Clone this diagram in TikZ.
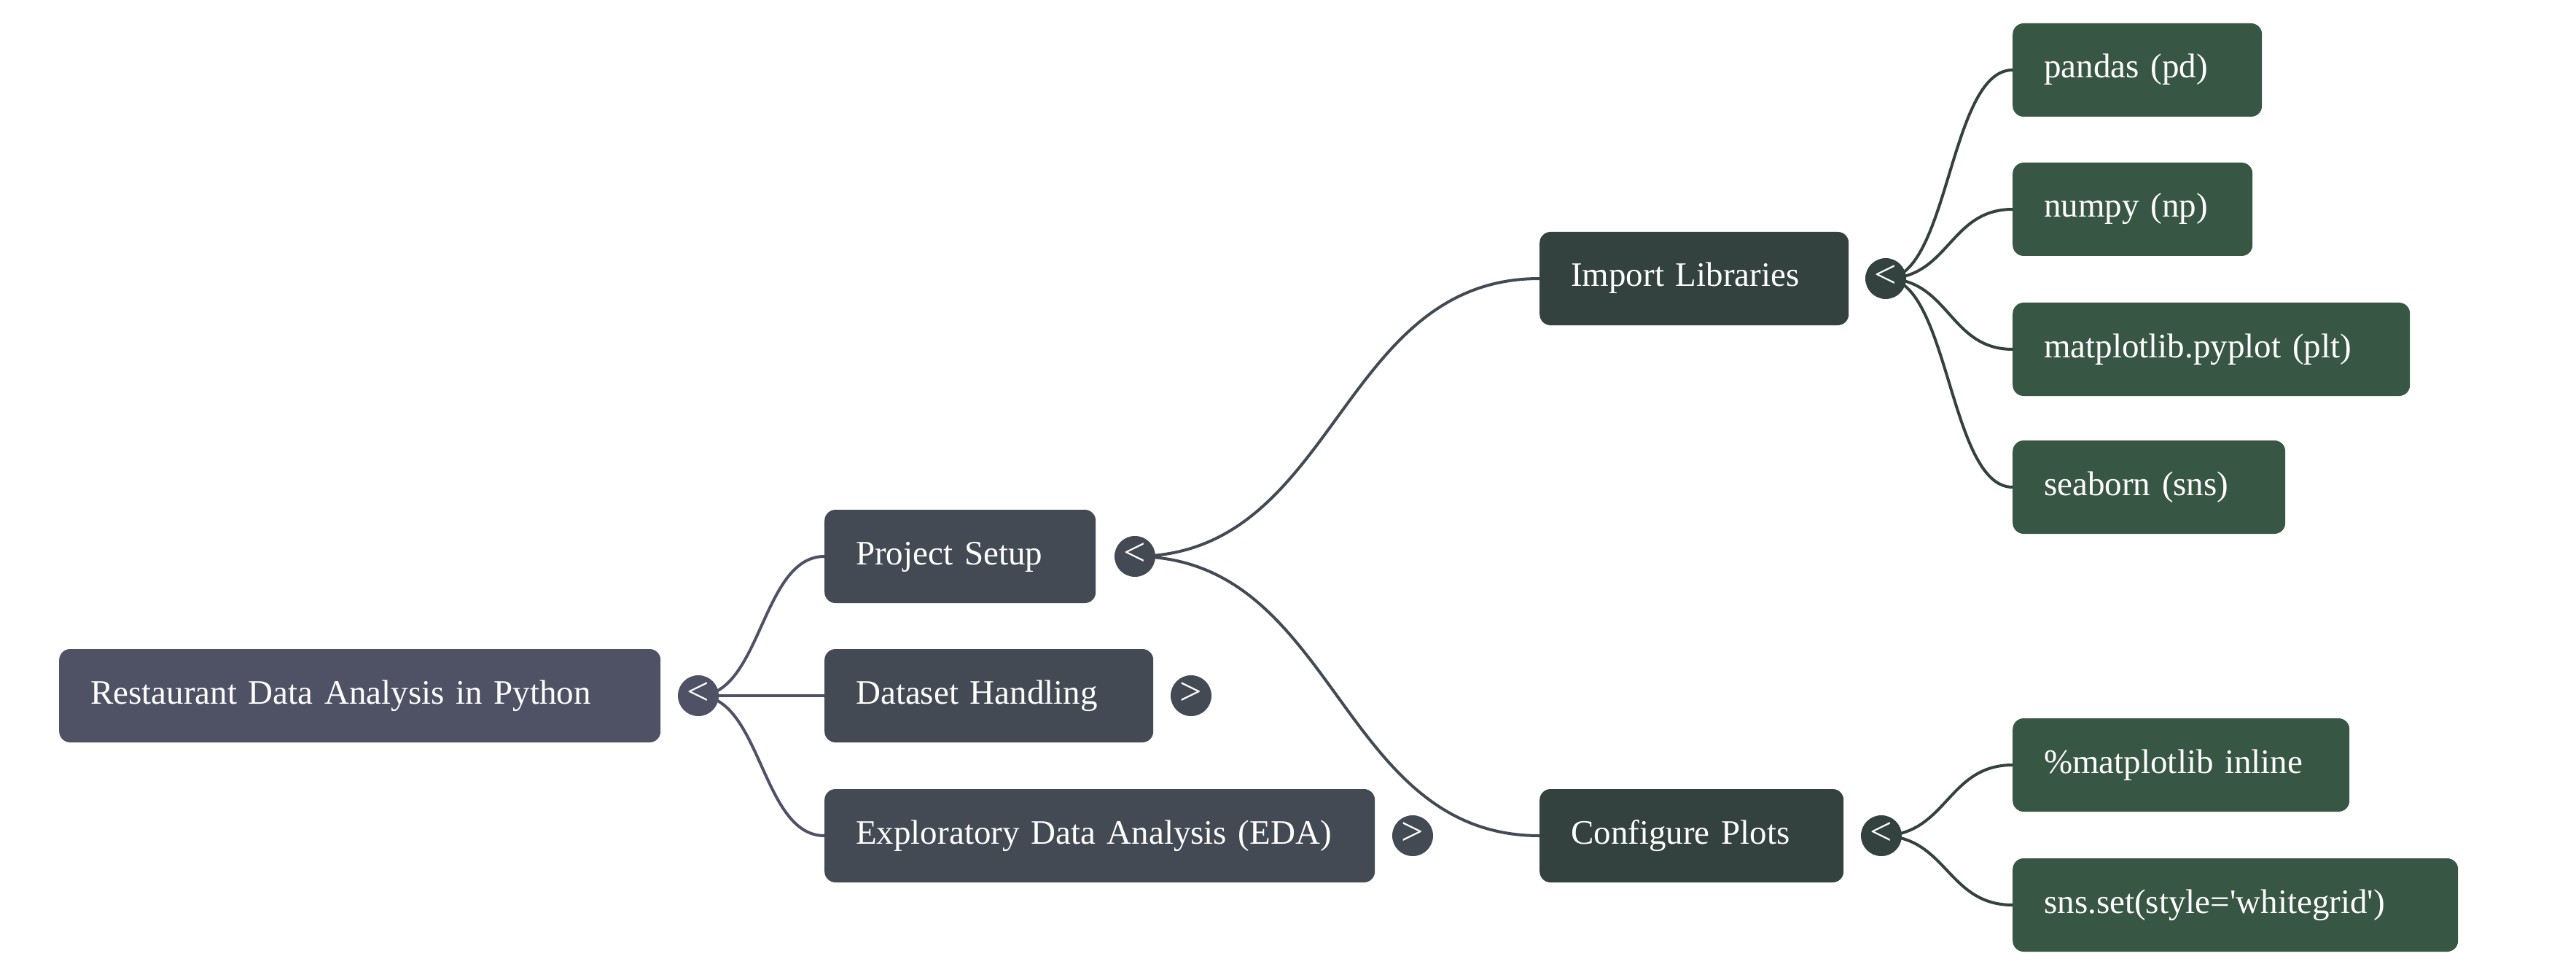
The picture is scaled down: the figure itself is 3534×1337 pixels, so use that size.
\documentclass[tikz,border=0pt]{standalone}
\usepackage{fontspec}
\newfontfamily\lserif{Liberation Serif}
\usetikzlibrary{calc}
\definecolor{croot}{HTML}{4F5165}
\definecolor{cone}{HTML}{434A54}
\definecolor{ctwo}{HTML}{33423E}
\definecolor{cleaf}{HTML}{385644}
\pgfdeclarelayer{bg}
\pgfsetlayers{bg,main}
\tikzset{
  box/.style={rounded corners=15pt, minimum height=128pt, text width=#1,
    inner xsep=43pt, inner ysep=0pt, align=left, anchor=west, text=white,
    font=\lserif\fontsize{47}{56}\selectfont, text height=32pt, text depth=10pt},
  tog/.style={circle, minimum size=56pt, inner sep=0pt, text=white,
    font=\lserif\fontsize{54}{60}\selectfont, text height=25pt, text depth=0pt},
  link/.style={line width=4pt, to path={let \p1=(\tikztostart), \p2=(\tikztotarget) in
    .. controls ({(\x1+\x2)/2},\y1) and ({(\x1+\x2)/2},\y2) .. (\tikztotarget) \tikztonodes}}
}
\begin{document}
\begin{tikzpicture}[x=1pt,y=-1pt]
\useasboundingbox (0,0) rectangle (3534,1337);
% boxes
\node[box=739pt, fill=croot] (root) at (81,954) {Restaurant Data Analysis in Python};
\node[box=286pt, fill=cone] (ps) at (1131,763) {Project Setup};
\node[box=365pt, fill=cone] (dh) at (1131,954) {Dataset Handling};
\node[box=669pt, fill=cone] (eda) at (1131,1146) {Exploratory Data Analysis (EDA)};
\node[box=338pt, fill=ctwo] (il) at (2112,382) {Import Libraries};
\node[box=331pt, fill=ctwo] (cp) at (2112,1146) {Configure Plots};
\node[box=256pt, fill=cleaf] (pd) at (2761,96) {pandas (pd)};
\node[box=243pt, fill=cleaf] (np) at (2761,287) {numpy (np)};
\node[box=459pt, fill=cleaf] (mp) at (2761,479) {matplotlib.pyplot (plt)};
\node[box=288pt, fill=cleaf] (sb) at (2761,668) {seaborn (sns)};
\node[box=376pt, fill=cleaf] (mi) at (2761,1049) {\%matplotlib inline};
\node[box=525pt, fill=cleaf] (ss) at (2761,1241) {sns.set(style='whitegrid')};
% toggles
\node[tog, fill=croot] (troot) at (958,954) {<};
\node[tog, fill=cone] (tps) at (1557,763) {<};
\node[tog, fill=cone] (tdh) at (1634,954) {>};
\node[tog, fill=cone] (teda) at (1938,1146) {>};
\node[tog, fill=ctwo] (til) at (2587,382) {<};
\node[tog, fill=ctwo] (tcp) at (2581,1146) {<};
% links
\begin{pgfonlayer}{bg}
\draw[link, draw=croot] (troot.center) to (ps.west);
\draw[link, draw=croot] (troot.center) to (dh.west);
\draw[link, draw=croot] (troot.center) to (eda.west);
\draw[link, draw=cone] (tps.center) to (il.west);
\draw[link, draw=cone] (tps.center) to (cp.west);
\draw[link, draw=ctwo] (til.center) to (pd.west);
\draw[link, draw=ctwo] (til.center) to (np.west);
\draw[link, draw=ctwo] (til.center) to (mp.west);
\draw[link, draw=ctwo] (til.center) to (sb.west);
\draw[link, draw=ctwo] (tcp.center) to (mi.west);
\draw[link, draw=ctwo] (tcp.center) to (ss.west);
\end{pgfonlayer}
\end{tikzpicture}
\end{document}
